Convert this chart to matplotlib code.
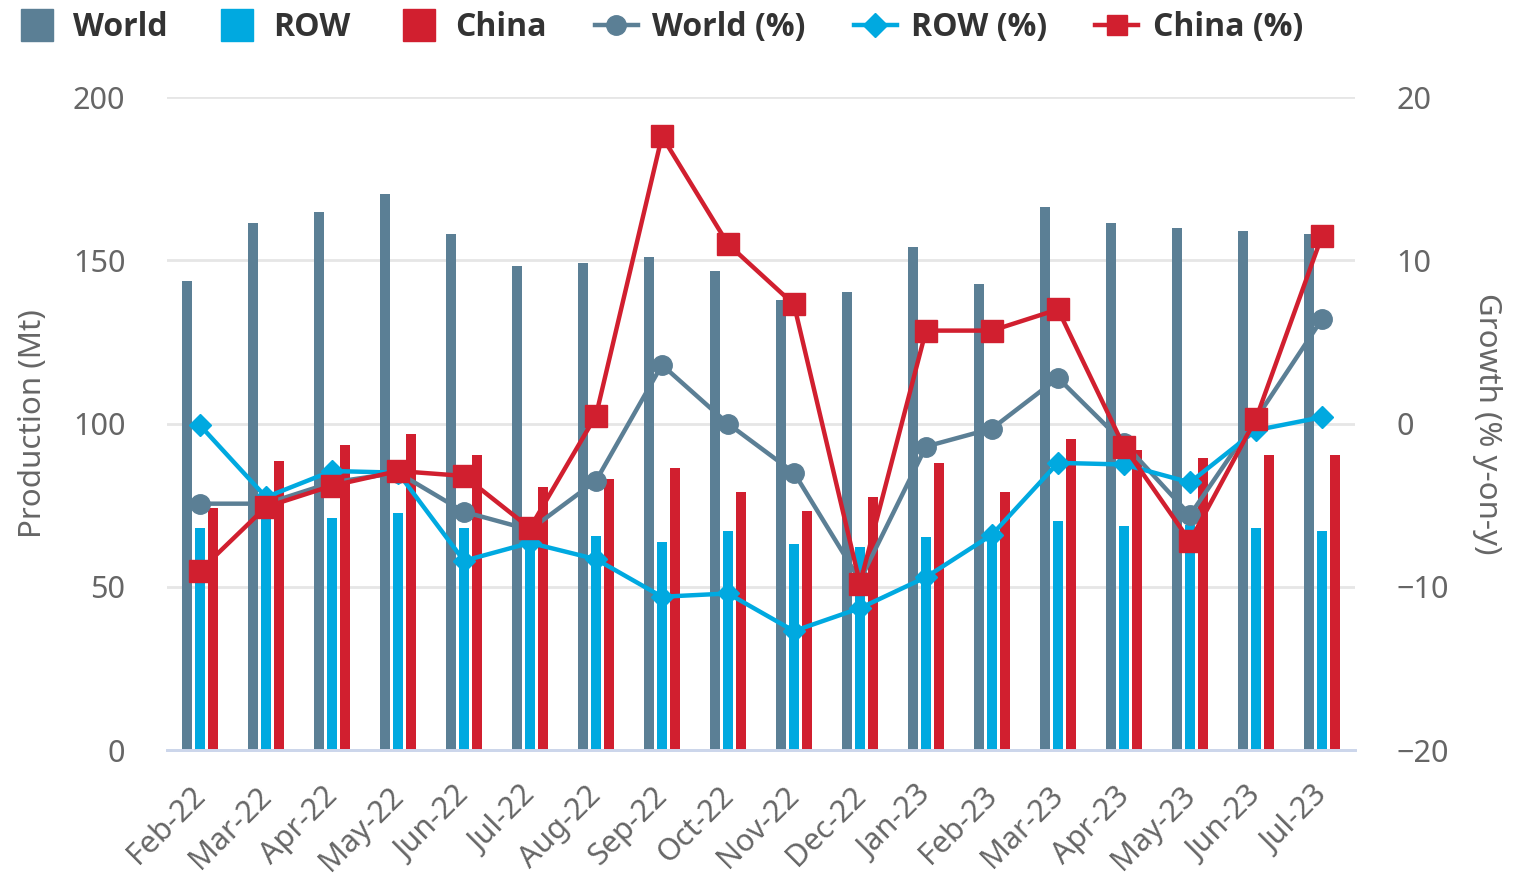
import numpy as np
import matplotlib
matplotlib.use("Agg")
import matplotlib.pyplot as plt
import matplotlib.transforms as mtransforms
from matplotlib.lines import Line2D

plt.rcParams["font.family"] = ["Noto Sans", "DejaVu Sans"]
plt.rcParams["axes.unicode_minus"] = True

# data
months = ["Feb-22", "Mar-22", "Apr-22", "May-22", "Jun-22", "Jul-22", "Aug-22",
          "Sep-22", "Oct-22", "Nov-22", "Dec-22", "Jan-23", "Feb-23", "Mar-23",
          "Apr-23", "May-23", "Jun-23", "Jul-23"]
world = [143.7, 161.4, 164.7, 170.3, 158.2, 148.4, 149.3, 150.9, 146.9, 138.0,
         140.3, 154.2, 142.9, 166.2, 161.4, 159.8, 159.0, 158.2]
row = [67.9, 72.0, 71.1, 72.7, 67.9, 64.0, 65.5, 63.8, 67.0, 63.0,
       62.1, 65.4, 64.5, 70.2, 68.6, 69.0, 67.9, 67.1]
china = [74.2, 88.6, 93.6, 96.8, 90.3, 80.7, 83.1, 86.4, 79.1, 73.4,
         77.5, 87.9, 79.1, 95.2, 91.8, 89.6, 90.4, 90.4]
world_pct = [-4.9, -4.9, -3.6, -3.0, -5.4, -6.5, -3.5, 3.6, 0.0, -3.0,
             -9.6, -1.4, -0.3, 2.8, -1.2, -5.6, 0.3, 6.4]
row_pct = [-0.1, -4.5, -2.9, -3.0, -8.4, -7.3, -8.3, -10.6, -10.4, -12.7,
           -11.3, -9.4, -6.8, -2.4, -2.5, -3.6, -0.4, 0.4]
china_pct = [-9.0, -5.1, -3.8, -2.9, -3.2, -6.4, 0.5, 17.6, 11.0, 7.3,
             -9.8, 5.7, 5.7, 7.0, -1.4, -7.2, 0.3, 11.5]

c_world = "#5b7f95"
c_row = "#00a9e0"
c_china = "#d11f2f"
c_text = "#666666"

fig = plt.figure(figsize=(15.18, 8.91), dpi=100)
ax = fig.add_axes([0.110, 0.158, 0.7826, 0.733])
ax2 = ax.twinx()

x = np.arange(len(months))
w = 0.15
ax.bar(x - 0.2, world, w, color=c_world, zorder=2)
ax.bar(x, row, w, color=c_row, zorder=2)
ax.bar(x + 0.2, china, w, color=c_china, zorder=2)

ax.set_xlim(-0.5, len(months) - 0.5)
ax.set_ylim(0, 200)
ax.set_yticks([0, 50, 100, 150, 200])
ax.grid(axis="y", color="#e6e6e6", linewidth=2)
ax.set_axisbelow(True)
ax.set_xticks(x)
ax.set_xticklabels(months, rotation=45, ha="right", rotation_mode="anchor")
ax.tick_params(axis="x", length=0, pad=22, labelsize=22, labelcolor=c_text)
ax.tick_params(axis="y", length=0, pad=30, labelsize=22, labelcolor=c_text)
ax.set_ylabel("Production (Mt)", fontsize=22.5, color=c_text, labelpad=18)

# shift x labels a little to the left
shift = mtransforms.ScaledTranslation(-7 / 72, 0, fig.dpi_scale_trans)
for lab in ax.get_xticklabels():
    lab.set_transform(lab.get_transform() + shift)

lw = 3.2
ax2.plot(x, world_pct, color=c_world, lw=lw, marker="o", markersize=14, zorder=3)
ax2.plot(x, row_pct, color=c_row, lw=lw, marker="D", markersize=11, zorder=3)
ax2.plot(x, china_pct, color=c_china, lw=lw, marker="s", markersize=15.5, zorder=4)
ax2.set_ylim(-20, 20)
ax2.set_yticks([-20, -10, 0, 10, 20])
ax2.tick_params(axis="y", length=0, pad=30, labelsize=22, labelcolor=c_text)
ax2.set_ylabel("Growth (% y-on-y)", fontsize=22.5, color=c_text, rotation=270, labelpad=38)

for a in (ax, ax2):
    for s in ("top", "left", "right"):
        a.spines[s].set_visible(False)
    a.spines["bottom"].set_color("#ccd6eb")
    a.spines["bottom"].set_linewidth(2)

handles = [
    Line2D([], [], ls="none", marker="s", markersize=23, color=c_world),
    Line2D([], [], ls="none", marker="s", markersize=23, color=c_row),
    Line2D([], [], ls="none", marker="s", markersize=23, color=c_china),
    Line2D([], [], color=c_world, lw=lw, marker="o", markersize=14),
    Line2D([], [], color=c_row, lw=lw, marker="D", markersize=12),
    Line2D([], [], color=c_china, lw=lw, marker="s", markersize=15),
]
labels = ["World", "ROW", "China", "World (%)", "ROW (%)", "China (%)"]
fig.legend(handles, labels, loc="upper left", bbox_to_anchor=(-0.009, 1.02), ncol=6,
           frameon=False,
           prop={"family": ["Open Sans", "DejaVu Sans"], "size": 23, "weight": "bold"},
           labelcolor="#333333",
           handlelength=1.35, handletextpad=0.45, columnspacing=1.5)

fig.savefig("out.png", dpi=100)
